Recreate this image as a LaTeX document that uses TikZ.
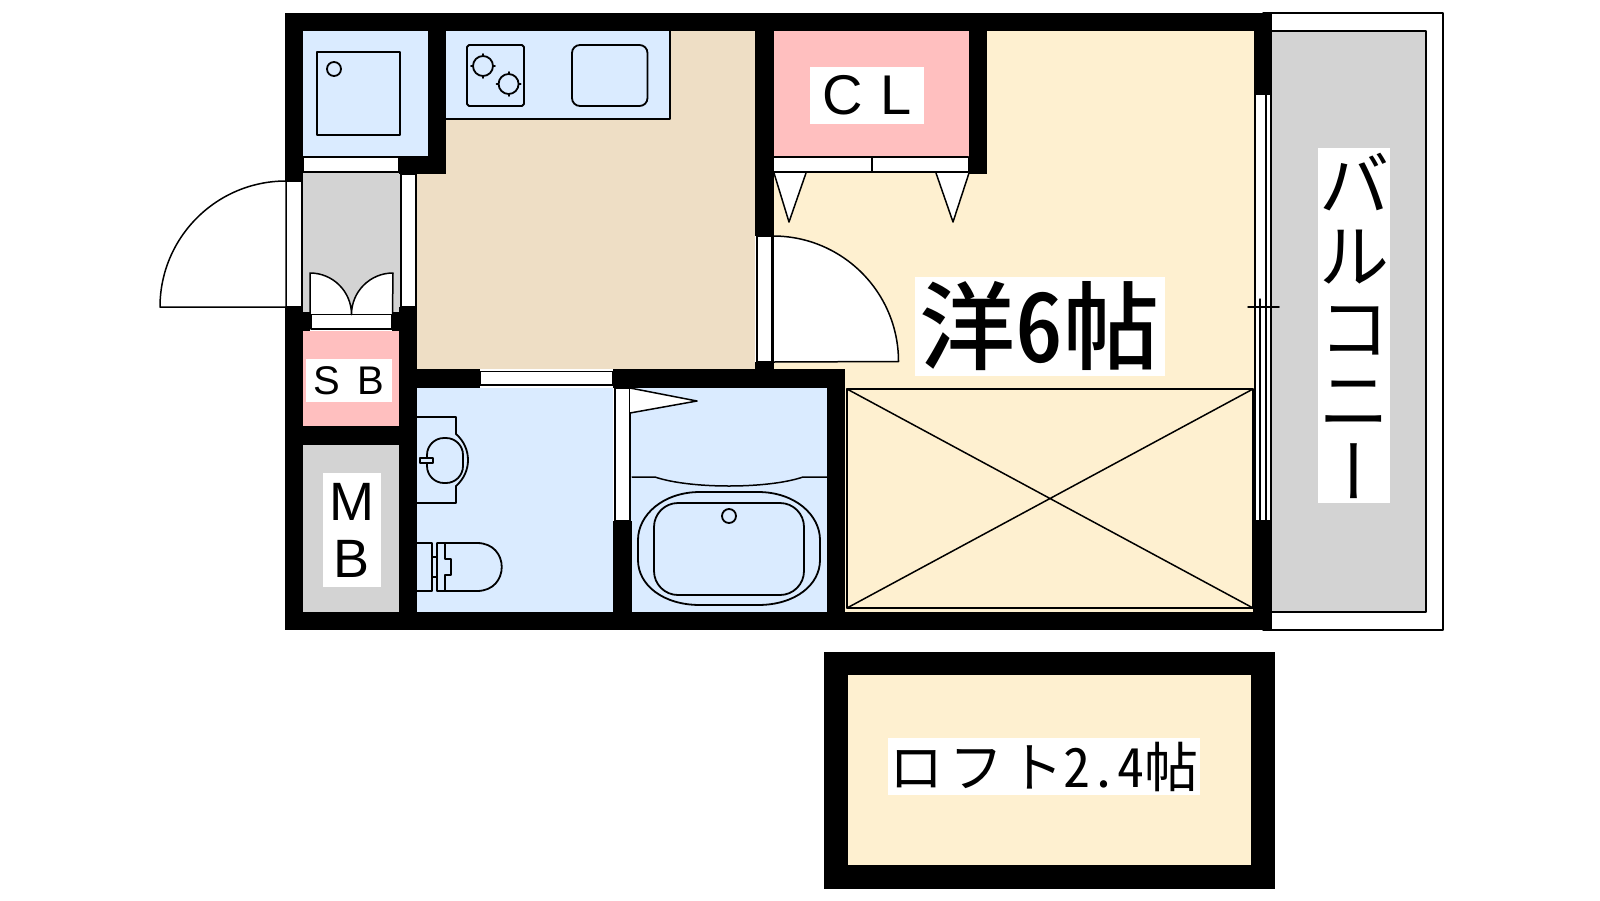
\documentclass[tikz,border=0pt]{standalone}
\usepackage{fontspec}
\setmainfont{Liberation Sans}
\newfontfamily\jpfont{Noto Sans CJK JP}
\newfontfamily\jpbold[RawFeature=+hwid]{Noto Sans CJK JP Medium}
\newfontfamily\jphalf[RawFeature=+hwid]{Noto Sans CJK JP}
\newfontfamily\jpvert[RawFeature=+vert]{Noto Sans CJK JP}
\definecolor{roomblue}{HTML}{DAEBFF}
\definecolor{roombeige}{HTML}{EEDEC5}
\definecolor{roomyellow}{HTML}{FEF0D0}
\definecolor{roompink}{HTML}{FFBFBF}
\definecolor{roomgray}{HTML}{D3D3D3}
\begin{document}
\begin{tikzpicture}[x=1pt,y=-1pt,line join=round,line cap=round,line width=1.5pt,
	frame/.style={draw=black,fill=white},
	fixture/.style={draw=black,line width=1.8pt},
	roomtag/.style={fill=white,inner sep=0pt,align=center}]
\useasboundingbox (0,0) rectangle (1600,900);
% Sàn
\fill[roomblue] (303,31) rectangle (428,157);
\fill[roomgray] (303,172) rectangle (400,312);
\fill[roompink] (303,331) rectangle (399,426);
\fill[roomgray] (303,445) rectangle (399,612);
\fill[roombeige] (446,31) rectangle (755,174);
\fill[roombeige] (417,174) rectangle (755,369);
\fill[roomblue] (446,31) rectangle (670,119);
\fill[roomblue] (417,388) rectangle (613,612);
\fill[roomblue] (631,388) rectangle (827,612);
\fill[roomyellow] (773,31) rectangle (1254,369);
\fill[roomyellow] (845,369) rectangle (1254,612);
\fill[roompink] (773,31) rectangle (969,157);
\fill[roomgray] (1272,31) rectangle (1426,612);
% Ban công
\draw (1263,13) -- (1443,13) -- (1443,630) -- (1263,630);
\draw (1272,31) -- (1426,31) -- (1426,612) -- (1272,612);
% Tường
\foreach \xa/\ya/\xb/\yb in {285/13/1272/31, 285/13/303/181, 285/307/303/630, 428/13/446/174,
	399/156/446/174, 285/612/1272/630, 303/312/310/331, 392/312/399/331, 399/307/417/612,
	303/426/399/445, 417/369/480/388, 613/369/845/388, 827/369/845/630, 613/521/632/612,
	755/13/773.6/236, 755/362/773.6/369, 968.6/13/987/174, 1254/13/1272/94, 1253/521/1272/630}
	\fill (\xa,\ya) rectangle (\xb,\yb);
% Cửa
\draw[frame] (303,157) rectangle (399,172);
\draw[frame] (286,181) rectangle (302,307);
\draw[frame] (401,174) rectangle (416,307);
\draw[frame] (311,314) rectangle (392,329);
\draw[frame] (480,371.5) rectangle (613,385);
\draw[frame] (615,388) rectangle (630,521);
\draw[frame] (757,236) rectangle (772,362);
\draw[frame] (773.6,157) rectangle (968.6,172);
\draw (872,157) -- (872,172);
\draw[frame] (286,181) arc[start angle=-90,end angle=-180,radius=126] -- (286,307) -- cycle;
\draw[frame] (773,236) arc[start angle=-90,end angle=0,radius=125.5] -- (773,362) -- cycle;
\fill[white] (310,273) rectangle (393,314);
\fill[roomgray] (310,273) arc[start angle=-90,end angle=0,radius=41.5]
	arc[start angle=180,end angle=270,radius=41.5] -- cycle;
\draw (310,314) -- (310,273) arc[start angle=-90,end angle=0,radius=41.5]
	arc[start angle=180,end angle=270,radius=41.5] -- (392.5,314);
\draw[frame] (630,388) -- (697,401) -- (630,413);
\draw[frame] (774,173) -- (789,222) -- (806,173);
\draw[frame] (936,173) -- (953,222) -- (969,173);
% Cửa sổ ban công
\draw[frame] (1255,94) rectangle (1271,521);
\draw (1266,94) -- (1266,521);
\draw (1260,299) -- (1260,521);
\draw (1248,307) -- (1279,307);
% Máy giặt
\draw[fixture] (317,52) rectangle (400,135);
\draw[fixture] (334,69) circle (7);
% Bếp
\draw (446,119) -- (670,119) -- (670,31);
\draw[fixture] (469,45) -- (522,45) -- (524,47) -- (524,104) -- (522,106) -- (469,106) -- (467,104) -- (467,47) -- cycle;
\foreach \bx/\by in {483/66, 508.6/84} {
	\draw[fixture] (\bx-12,\by) -- (\bx+12,\by) (\bx,\by-12) -- (\bx,\by+12);
	\draw[fixture,fill=roomblue] (\bx,\by) circle (10);
}
\draw[fixture,rounded corners=8pt] (572,45) rectangle (647.5,106);
% Chậu rửa
\draw[fixture] (417,417) -- (456,417) -- (456,434) .. controls (472,448) and (472,472) .. (456,486) -- (456,503) -- (417,503);
\draw[fixture,rounded corners=17pt] (427,438) rectangle (463,483);
\draw[fixture,fill=roomblue] (420,458) rectangle (433,463);
% Bồn cầu
\draw[fixture] (417,543) -- (432,543) -- (432,591) -- (417,591);
\draw[fixture] (432,557) -- (437,557) (432,577) -- (437,577);
\draw[fixture] (477,591) -- (437,591) -- (437,543) -- (477,543) .. controls (510,543) and (510,591) .. (477,591);
\draw[fixture] (445,543) -- (445,559) -- (451,559) -- (451,575) -- (445,575) -- (445,591);
% Bồn tắm
\draw (632,477) -- (655,477) .. controls (690,489) and (768,489) .. (803,477) -- (827,477);
\draw[fixture] (700,492) -- (758,492) .. controls (795,492) and (820,515) .. (820,540) -- (820,560)
	.. controls (820,585) and (795,605) .. (758,605) -- (700,605)
	.. controls (663,605) and (638,585) .. (638,560) -- (638,540)
	.. controls (638,515) and (663,492) .. (700,492) -- cycle;
\draw[fixture,rounded corners=24pt] (654,503) rectangle (804,595);
\draw[fixture] (729,516) circle (7);
% Gác
\draw (847,389) rectangle (1253,608);
\draw (847,389) -- (1253,608) (847,608) -- (1253,389);
\fill (824,652) rectangle (1275,889);
\fill[roomyellow] (848,675) rectangle (1251,865);
% Chữ
\node[roomtag,minimum width=114pt,minimum height=57pt,font=\fontsize{56}{56}\selectfont] (cltag) at (867,95.5) {C\hspace{18pt}L};
\node[roomtag,minimum width=86pt,minimum height=43pt,font=\fontsize{40}{40}\selectfont] (sbtag) at (349,380.5) {S\hspace{17pt}B};
\node[roomtag,minimum width=58pt,minimum height=114pt,font=\fontsize{54}{57}\selectfont] (mbtag) at (352,530) {M\\B};
\node[roomtag,minimum width=250pt,minimum height=99pt,font=\fontsize{96}{96}\jpbold] (westerntag) at (1039.5,326) {洋6帖};
\node[roomtag,minimum width=72pt,minimum height=355pt,font=\fontsize{70}{72}\jpfont] (balconytag) at (1354,325.5) {バ\\ル\\コ\\ニ\\{\jpvert ー}};
\node[roomtag,minimum width=312pt,minimum height=57pt,font=\fontsize{54}{54}\jpfont] (lofttag) at (1044,766.5) {ロ\hspace{6pt}フ\hspace{6pt}ト{\jphalf 2.4}帖};
\end{tikzpicture}
\end{document}
